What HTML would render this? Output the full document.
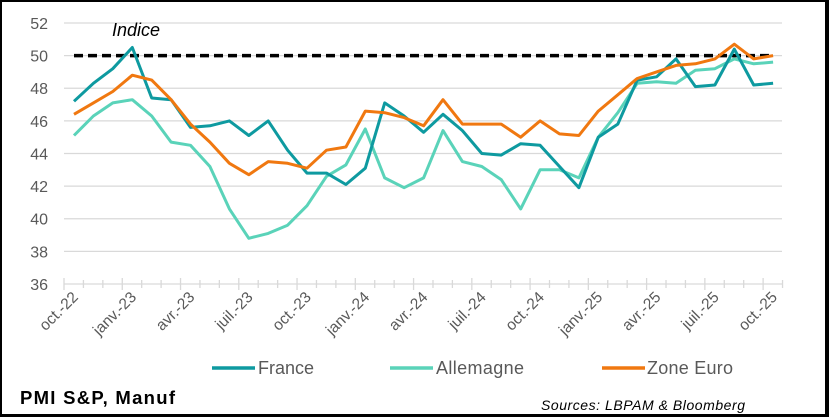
<!DOCTYPE html>
<html><head><meta charset="utf-8"><style>
html,body{margin:0;padding:0;background:#fff;}
#c{position:relative;width:829px;height:417px;box-sizing:border-box;border-style:solid;border-color:#000;border-width:2px 4px 3px 2px;overflow:hidden;}
svg{position:absolute;left:-2px;top:-2px;}
text{font-family:"Liberation Sans",sans-serif;}
</style></head><body><div id="c">
<svg id="s" width="829" height="417" xmlns="http://www.w3.org/2000/svg"></svg>
</div>
<script>
var F=[47.2,48.3,49.2,50.5,47.4,47.3,45.6,45.7,46.0,45.1,46.0,44.2,42.8,42.8,42.1,43.1,47.1,46.3,45.3,46.4,45.4,44.0,43.9,44.6,44.5,43.2,41.9,45.0,45.8,48.5,48.7,49.8,48.1,48.2,50.4,48.2,48.3];
var A=[45.1,46.3,47.1,47.3,46.3,44.7,44.5,43.2,40.6,38.8,39.1,39.6,40.8,42.6,43.3,45.5,42.5,41.9,42.5,45.4,43.5,43.2,42.4,40.6,43.0,43.0,42.5,45.0,46.5,48.3,48.4,48.3,49.1,49.2,49.8,49.5,49.6];
var Z=[46.4,47.1,47.8,48.8,48.5,47.3,45.8,44.7,43.4,42.7,43.5,43.4,43.1,44.2,44.4,46.6,46.5,46.2,45.7,47.3,45.8,45.8,45.8,45.0,46.0,45.2,45.1,46.6,47.6,48.6,49.0,49.4,49.5,49.8,50.7,49.8,50.0];
function Y(v){return 23+(52-v)*16.31;}
function X(i){return 74+19.42*i;}
var h='';
for(var v=38;v<=52;v+=2){h+='<line x1="64" x2="782" y1="'+Y(v)+'" y2="'+Y(v)+'" stroke="#d9d9d9" stroke-width="1.3"/>';}
h+='<line x1="64" x2="782" y1="284" y2="284" stroke="#d9d9d9" stroke-width="1.3"/>';
for(var i=0;i<=37;i++){var x=64+19.42*i;var lg=(i%3==0);h+='<line x1="'+x+'" x2="'+x+'" y1="'+(lg?278:280)+'" y2="'+(lg?290:288)+'" stroke="#d9d9d9" stroke-width="1.3"/>';}
for(var v=36;v<=52;v+=2){h+='<text x="48" y="'+(Y(v)+6)+'" font-size="16" fill="#595959" text-anchor="end">'+v+'</text>';}
var labs=['oct.-22','janv.-23','avr.-23','juil.-23','oct.-23','janv.-24','avr.-24','juil.-24','oct.-24','janv.-25','avr.-25','juil.-25','oct.-25'];
for(var k=0;k<labs.length;k++){var x=X(k*3)+5,y=298;h+='<text x="'+x+'" y="'+y+'" font-size="15.5" fill="#595959" text-anchor="end" transform="rotate(-45 '+x+' '+y+')">'+labs[k]+'</text>';}
h+='<line x1="74" x2="773" y1="'+Y(50)+'" y2="'+Y(50)+'" stroke="#000" stroke-width="3.5" stroke-dasharray="9,5"/>';
function pl(d,c){var p=d.map(function(v,i){return X(i).toFixed(1)+','+Y(v).toFixed(1)}).join(' ');return '<polyline points="'+p+'" fill="none" stroke="'+c+'" stroke-width="3" stroke-linejoin="round"/>';}
h+=pl(A,'#5ad3b9')+pl(F,'#0e9aa0')+pl(Z,'#f07810');
h+='<text x="112" y="36" font-size="18" font-style="italic" fill="#000">Indice</text>';
h+='<line x1="212" x2="255" y1="368" y2="368" stroke="#0e9aa0" stroke-width="3.5"/><text x="258" y="374" font-size="18" fill="#595959" textLength="56">France</text>';
h+='<line x1="390" x2="433" y1="368" y2="368" stroke="#5ad3b9" stroke-width="3.5"/><text x="436" y="374" font-size="18" fill="#595959" textLength="88">Allemagne</text>';
h+='<line x1="602" x2="645" y1="368" y2="368" stroke="#f07810" stroke-width="3.5"/><text x="647" y="374" font-size="18" fill="#595959" textLength="86">Zone Euro</text>';
h+='<text x="20" y="404" font-size="18.5" font-weight="bold" fill="#000" textLength="155">PMI S&amp;P, Manuf</text>';
h+='<text x="541" y="410" font-size="14" font-style="italic" fill="#000" textLength="204">Sources: LBPAM &amp; Bloomberg</text>';
document.getElementById('s').innerHTML=h;
</script>
</body></html>
